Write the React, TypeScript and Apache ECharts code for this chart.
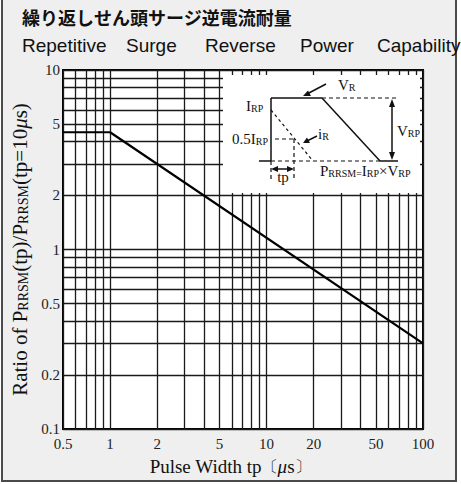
import React, { useEffect, useRef } from "react";
import * as echarts from "echarts";

// ---- data ----
const pulseWidth = [0.5, 1, 100];
const powerRatio = [4.5, 4.5, 0.3];
const xTickLabels = [0.5, 1, 2, 5, 10, 20, 50, 100];
const yTickLabels = [0.1, 0.2, 0.5, 1, 2, 5, 10];
const xGridValues = [
  0.5, 0.6, 0.7, 0.8, 0.9, 1, 2, 3, 4, 5, 6, 7, 8, 9, 10, 20, 30, 40, 50, 60, 70, 80, 90, 100,
];
const yGridValues = [
  0.1, 0.2, 0.3, 0.4, 0.5, 0.6, 0.7, 0.8, 0.9, 1, 2, 3, 4, 5, 6, 7, 8, 9, 10,
];
const titleJa = "繰り返しせん頭サージ逆電流耐量";
const titleEnWords = ["Repetitive", "Surge", "Reverse", "Power", "Capability"];

const SERIF = "'Liberation Serif', 'Times New Roman', serif";
const SANS = "'Liberation Sans', Arial, sans-serif";
const INK = "#111";

export default function App() {
  const ref = useRef<HTMLDivElement>(null);
  useEffect(() => {
    document.body.style.margin = "0";
    const chart = echarts.init(ref.current!, null, { renderer: "svg" });

    const wordX = [22, 126, 205, 300, 377];
    const line = (x1: number, y1: number, x2: number, y2: number, dash?: number[], w = 1.5) => ({
      type: "line",
      z: 20,
      shape: { x1, y1, x2, y2 },
      style: { stroke: INK, lineWidth: w, lineDash: dash },
    });
    const poly = (pts: number[][]) => ({
      type: "polygon",
      z: 20,
      shape: { points: pts },
      style: { fill: INK },
    });
    const richText = (x: number, y: number, text: string, align = "left") => ({
      type: "text",
      z: 21,
      x,
      y,
      style: {
        text,
        align,
        verticalAlign: "middle",
        fill: INK,
        rich: {
          b: { fontFamily: SERIF, fontSize: 15, fill: INK, verticalAlign: "bottom" },
          s: { fontFamily: SERIF, fontSize: 10, fill: INK, verticalAlign: "bottom" },
        },
      },
    });

    const graphics: any[] = [
      {
        type: "rect",
        z: -10,
        shape: { x: 2, y: -5, width: 454, height: 486 },
        style: { fill: "#eeefee", stroke: "#4a4a4a", lineWidth: 2 },
      },
      {
        type: "text",
        x: 22,
        y: 17,
        style: {
          text: titleJa,
          fontFamily: "'Noto Sans CJK JP', sans-serif",
          fontSize: 18,
          fontWeight: "bold",
          fill: INK,
          verticalAlign: "middle",
        },
      },
      ...titleEnWords.map((w, i) => ({
        type: "text",
        x: wordX[i],
        y: 45,
        style: {
          text: w,
          fontFamily: SANS,
          fontSize: 19,
          fill: INK,
          verticalAlign: "middle",
        },
      })),
      // inset background
      {
        type: "rect",
        z: 15,
        shape: { x: 223, y: 75, width: 197, height: 118 },
        style: { fill: "#fff" },
      },
      line(271, 98, 271, 161),
      line(271, 98, 322, 98),
      line(322, 98, 380, 161),
      line(259, 161, 271, 161),
      line(380, 161, 398, 161),
      line(271, 161, 380, 161, [4, 3], 1.2),
      line(322, 98, 397, 98, [4, 3], 1.2),
      line(275, 139, 294, 139, [4, 3], 1.2),
      line(294, 139, 294, 180, [4, 3], 1.2),
      line(271, 161, 271, 180, [4, 3], 1.2),
      line(271, 110, 313, 161, [3, 3], 1.2),
      // V_RP arrow
      line(392, 104, 392, 155),
      poly([[392, 99], [389, 107], [395, 107]]),
      poly([[392, 160], [389, 152], [395, 152]]),
      // tp arrow
      line(275, 169, 290, 169),
      poly([[271, 169], [278, 166], [278, 172]]),
      poly([[294, 169], [287, 166], [287, 172]]),
      // VR pointer
      line(326, 84, 307, 94),
      poly([[303, 96], [308, 90.5], [311, 96]]),
      // iR pointer
      line(317, 136, 307, 141),
      poly([[303, 143], [307, 137.5], [310, 143]]),
      richText(338, 85, "{b|V}{s|R}"),
      richText(246, 106, "{b|I}{s|RP}"),
      richText(268, 139, "{b|0.5I}{s|RP}", "right"),
      richText(397, 131, "{b|V}{s|RP}"),
      richText(318, 134, "{b|i}{s|R}"),
      richText(283, 177, "{b|tp}", "center"),
      richText(320, 171, "{b|P}{s|RRSM}{s|=}{b|I}{s|RP}{b|×V}{s|RP}"),
    ];

    chart.setOption({
      animation: false,
      backgroundColor: "#ffffff",
      grid: {
        left: 63,
        right: 38,
        top: 70,
        bottom: 55,
        show: true,
        backgroundColor: "#ffffff",
        borderColor: "#000",
        borderWidth: 2,
        outerBoundsMode: "none",
      },
      xAxis: {
        type: "log",
        logBase: 10,
        min: 0.5,
        max: 100,
        axisLine: { show: false },
        axisTick: { show: false, customValues: xGridValues },
        axisLabel: {
          customValues: xTickLabels,
          fontFamily: SERIF,
          fontSize: 15,
          color: "#222",
          margin: 7,
          formatter: (v: number) => String(v),
        },
        splitLine: { show: true, lineStyle: { color: "#1a1a1a", width: 1.3 } },
        name: "{n|Pulse Width tp}{b|〔}{i|μ}{n|s}{b|〕}",
        nameLocation: "middle",
        nameGap: 28,
        nameTextStyle: {
          verticalAlign: "top",
          padding: [0, 26, 0, 0],
          rich: {
            n: { fontFamily: SERIF, fontSize: 19, color: INK },
            b: { fontFamily: SERIF, fontSize: 16, color: INK },
            i: { fontFamily: SERIF, fontSize: 19, fontStyle: "italic", color: INK },
          },
        },
      },
      yAxis: {
        type: "log",
        logBase: 10,
        min: 0.1,
        max: 10,
        axisLine: { show: false },
        axisTick: { show: false, customValues: yGridValues },
        axisLabel: {
          customValues: yTickLabels,
          fontFamily: SERIF,
          fontSize: 15,
          color: "#222",
          margin: 3,
          formatter: (v: number) => String(v),
        },
        splitLine: { show: true, lineStyle: { color: "#1a1a1a", width: 1.3 } },
        name: "{n|Ratio of P}{s|RRSM}{n|(tp)/P}{s|RRSM}{n|(tp=10}{i|μ}{n|s)}",
        nameLocation: "middle",
        nameRotate: 90,
        nameGap: 24,
        nameTextStyle: {
          padding: [0, 0, 0, 0],
          rich: {
            n: { fontFamily: SERIF, fontSize: 21, color: INK, verticalAlign: "bottom" },
            s: { fontFamily: SERIF, fontSize: 14, color: INK, verticalAlign: "bottom" },
            i: { fontFamily: SERIF, fontSize: 21, fontStyle: "italic", color: INK, verticalAlign: "bottom" },
          },
        },
      },
      series: [
        {
          type: "line",
          data: pulseWidth.map((x, i) => [x, powerRatio[i]]),
          symbol: "none",
          lineStyle: { color: "#000", width: 2.2 },
          z: 5,
        },
      ],
      graphic: { elements: graphics },
    });
    return () => chart.dispose();
  }, []);
  return <div ref={ref} style={{ width: 461, height: 484 }} />;
}
